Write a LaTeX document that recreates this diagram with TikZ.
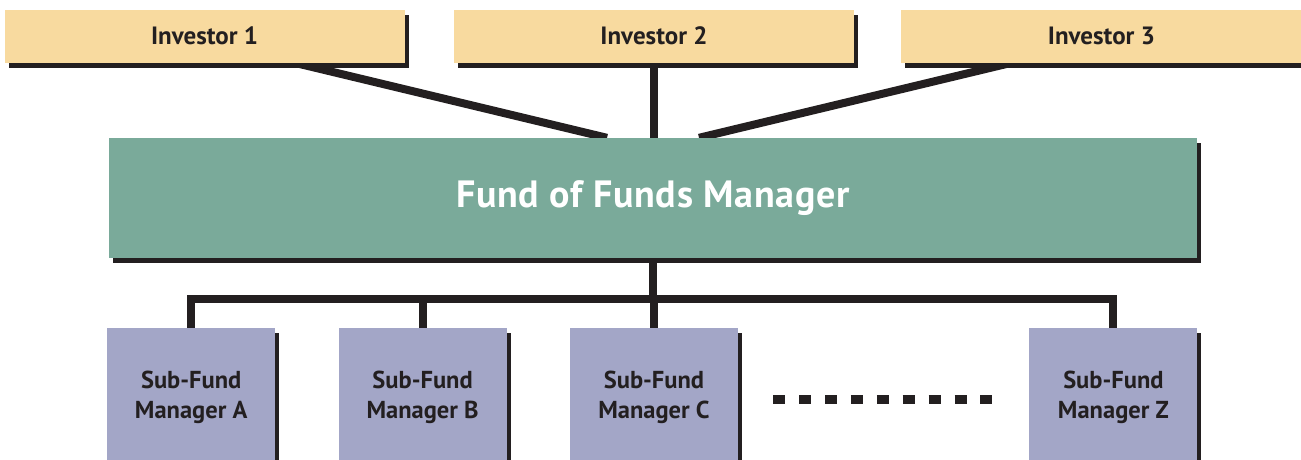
\documentclass[tikz,border=0pt]{standalone}
\usepackage{fontspec}
\setmainfont{PT Sans}
\usepackage{xcolor}
\usetikzlibrary{positioning, backgrounds, shadows}

\definecolor{ink}{HTML}{231F20}
\definecolor{investorfill}{HTML}{F8DA9F}
\definecolor{fundfill}{HTML}{7AAA9A}
\definecolor{subfill}{HTML}{A3A6C7}

\begin{document}
\begin{tikzpicture}[
  x=1pt, y=-1pt,
  blackshadow/.style={
    drop shadow={shadow xshift=4pt, shadow yshift=-5pt, fill=ink, opacity=1}
  },
  investornode/.style={
    rectangle, fill=investorfill, blackshadow,
    minimum width=400pt, minimum height=53pt, inner sep=0pt,
    font=\fontsize{25}{30}\selectfont\bfseries, text=ink
  },
  fundnode/.style={
    rectangle, fill=fundfill, blackshadow,
    minimum width=1088pt, minimum height=120pt, inner sep=0pt,
    font=\fontsize{38}{44}\selectfont\bfseries\addfontfeatures{LetterSpace=2}, text=white
  },
  subnode/.style={
    rectangle, fill=subfill, blackshadow,
    minimum width=168pt, minimum height=138pt, inner sep=0pt,
    font=\fontsize{24.5}{30}\selectfont\bfseries, text=ink, align=center
  },
  linkedge/.style={draw=ink, line width=8pt, line join=miter},
  moreedge/.style={draw=ink, line width=9pt, dash pattern=on 12pt off 13.9pt},
]
\useasboundingbox (0,0) rectangle (1301,459);

% ============================================================
% FUND OF FUNDS AND ITS INVESTORS
% ============================================================
\node[fundnode] (fund) at (653,198) {Fund of Funds Manager};

\node[investornode, above=75pt of fund, xshift=1pt] (inv2) {Investor 2};
\node[investornode, left=49pt of inv2] (inv1) {Investor 1};
\node[investornode, right=47pt of inv2] (inv3) {Investor 3};

% ============================================================
% SUB-FUND MANAGERS
% ============================================================
\node[subnode, below=70pt of fund, xshift=1pt] (subC) {Sub-Fund\\Manager C};
\node[subnode, left=63pt of subC] (subB) {Sub-Fund\\Manager B};
\node[subnode, left=63pt of subB] (subA) {Sub-Fund\\Manager A};
\node[subnode, right=291pt of subC] (subZ) {Sub-Fund\\Manager Z};

\coordinate[below=41pt of fund.south] (bus);

% ============================================================
% CONNECTIONS (behind the boxes)
% ============================================================
\begin{scope}[on background layer]
  \draw[linkedge] ([xshift=90pt]inv1.south) -- ([xshift=-46pt]fund.north);
  \draw[linkedge] (inv2.south) -- (inv2.south |- fund.north);
  \draw[linkedge] ([xshift=-90pt]inv3.south) -- ([xshift=46pt]fund.north);

  \draw[linkedge] (fund.south) -- (bus);
  \draw[linkedge] (subA.north) |- (bus) -| (subZ.north);
  \draw[linkedge] (subB.north) -- (subB.north |- bus);
  \draw[linkedge] (subC.north) -- (subC.north |- bus);
\end{scope}

% further managers between C and Z
\draw[moreedge] ([xshift=35pt, yshift=-2.5pt]subC.east) -- ([xshift=-37pt, yshift=-2.5pt]subZ.west);

\end{tikzpicture}
\end{document}
